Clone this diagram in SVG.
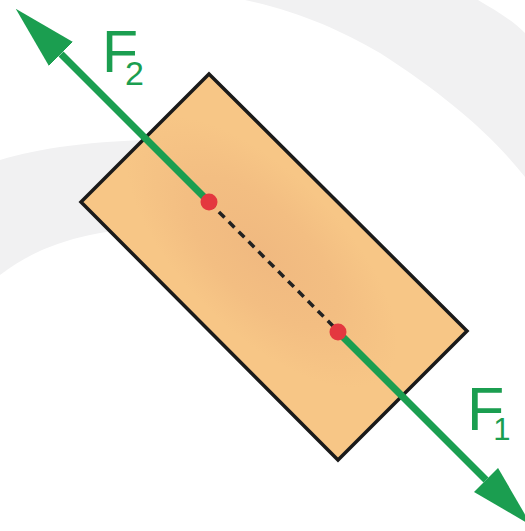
<svg xmlns="http://www.w3.org/2000/svg" width="525" height="531" viewBox="0 0 525 531">
  <defs>
    <style>
      .bg { fill: #f1f1f2; stroke: none; }
      .block { stroke: #1a1a1a; stroke-width: 3.5; stroke-linejoin: miter; }
      .force { stroke: #1b9e50; stroke-width: 7; fill: none; }
      .dash { stroke: #222; stroke-width: 3.5; stroke-dasharray: 8 6; fill: none; }
      .pt { fill: #e4373f; }
      .lbl { fill: #1b9e50; font-family: "Liberation Sans", Arial, sans-serif; }
    </style>
    <radialGradient id="blockFill" cx="262" cy="252" r="175" gradientUnits="userSpaceOnUse" gradientTransform="translate(262 252) rotate(45) scale(1 0.45) translate(-262 -252)">
      <stop offset="0" stop-color="#f0b980"/>
      <stop offset="0.55" stop-color="#f3be82"/>
      <stop offset="1" stop-color="#f7c686"/>
    </radialGradient>
    <marker id="arrow" viewBox="0 0 64 34" refX="0" refY="17" markerWidth="64" markerHeight="34" markerUnits="userSpaceOnUse" orient="auto">
      <path d="M0,0 L64,17 L0,34 Z" fill="#1b9e50"/>
    </marker>
  </defs>

  <g id="background">
    <path class="bg" d="M0,160 C40,148 90,141 170,139 L170,226 C90,229 40,244 0,275 Z"/>
    <path class="bg" d="M245,0 L478,0 C495,10 512,20 525,33 L525,177 C490,133 445,95 380,53 C340,30 300,12 245,0 Z"/>
  </g>

  <g id="block">
    <polygon class="block" points="209,74 467,331 338,460 81,202" fill="url(#blockFill)"/>
  </g>

  <g id="connectors">
    <line class="dash" x1="209" y1="202" x2="338" y2="331"/>
    <line class="force" x1="209" y1="202" x2="61" y2="54" marker-end="url(#arrow)"/>
    <line class="force" x1="338" y1="332" x2="486" y2="480" marker-end="url(#arrow)"/>
  </g>

  <g id="point-top">
    <circle class="pt" cx="209" cy="202" r="8.5"/>
  </g>
  <g id="point-bottom">
    <circle class="pt" cx="338" cy="332" r="8.5"/>
  </g>

  <g id="label-F2">
    <text class="lbl" x="102" y="72" font-size="59">F<tspan dx="-13" dy="13" font-size="34">2</tspan></text>
  </g>
  <g id="label-F1">
    <text class="lbl" x="467" y="430" font-size="61">F<tspan dx="-11" dy="10" font-size="31">1</tspan></text>
  </g>
</svg>
